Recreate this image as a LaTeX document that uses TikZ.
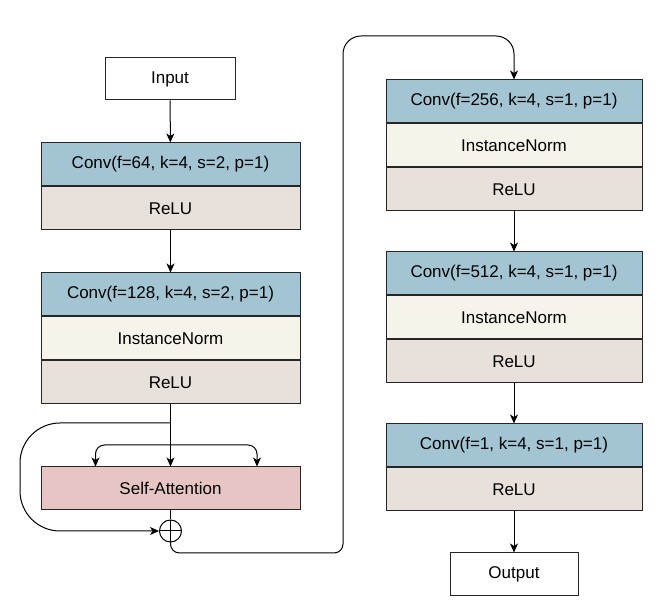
\documentclass[tikz,border=0pt]{standalone}
\usepackage{fontspec}
\setmainfont{Liberation Sans}
\usetikzlibrary{arrows.meta, positioning}

\definecolor{convblue}{HTML}{A3C5D3}
\definecolor{relugray}{HTML}{E8E0DA}
\definecolor{normcream}{HTML}{F6F3EB}
\definecolor{attnpink}{HTML}{E8C5C5}

\begin{document}
\begin{tikzpicture}[x=1pt, y=1pt, font=\fontsize{17}{20}\selectfont,
  layer/.style={rectangle, draw=black!85, line width=1pt, minimum width=259pt, minimum height=43pt, inner sep=0pt},
  convbox/.style={layer, fill=convblue},
  relubox/.style={layer, fill=relugray},
  normbox/.style={layer, fill=normcream},
  attnbox/.style={layer, fill=attnpink},
  iobox/.style={layer, fill=white, minimum width=130pt, minimum height=42pt},
  sumnode/.style={circle, draw=black, line width=1pt, minimum size=22pt, inner sep=0pt,
    path picture={\draw[line width=1pt] (path picture bounding box.north) -- (path picture bounding box.south)
      (path picture bounding box.west) -- (path picture bounding box.east);}},
  arrow/.style={line width=1pt, -{Stealth[length=9pt, width=8pt, inset=2.5pt]}},
  line/.style={line width=1pt}
]
\useasboundingbox (0,0) rectangle (665,616);

% left column
\node (input) [iobox] at (170,537) {Input};
\node (conva) [convbox] at (170.5,451.5) {Conv(f=64, k=4, s=2, p=1)};
\node (relua) [relubox, below=0pt of conva] {ReLU};
\node (convb) [convbox] at (170.5,321.5) {Conv(f=128, k=4, s=2, p=1)};
\node (normb) [normbox, below=0pt of convb] {InstanceNorm};
\node (relub) [relubox, below=0pt of normb] {ReLU};
\node (attn) [attnbox] at (170.5,127.5) {Self-Attention};
\node (sum) [sumnode] at (170.5,85) {};

% right column
\node (convc) [convbox, minimum width=256pt] at (514,514.5) {Conv(f=256, k=4, s=1, p=1)};
\node (normc) [normbox, minimum width=256pt, below=0pt of convc] {InstanceNorm};
\node (reluc) [relubox, minimum width=256pt, below=0pt of normc] {ReLU};
\node (convd) [convbox, minimum width=256pt] at (514,342.5) {Conv(f=512, k=4, s=1, p=1)};
\node (normd) [normbox, minimum width=256pt, below=0pt of convd] {InstanceNorm};
\node (relud) [relubox, minimum width=256pt, below=0pt of normd] {ReLU};
\node (conve) [convbox, minimum width=256pt] at (514,170.5) {Conv(f=1, k=4, s=1, p=1)};
\node (relue) [relubox, minimum width=256pt, below=0pt of conve] {ReLU};
\node (output) [iobox, minimum width=128pt, minimum height=43pt] at (514,41.5) {Output};

\coordinate (skip) at (170.5,193);
\coordinate (fork) at (170.5,171);

\draw [arrow] (input) -- (conva);
\draw [arrow] (relua) -- (convb);
\draw [arrow] (relub) -- (attn);
\draw [arrow, rounded corners=9pt] (fork) -| ([xshift=-75pt]attn.north);
\draw [arrow, rounded corners=9pt] (fork) -| ([xshift=86.5pt]attn.north);
\draw [arrow, rounded corners=40pt] (skip) -- (20,193) -- (20,85) -- (sum.west);
\draw [line] (attn) -- (sum);
\draw [arrow] (sum.south) [rounded corners=9pt] -- (170.5,63) -- (343,63) [rounded corners=18pt] -- (343,580) -- (514,580) -- (convc.north);
\draw [arrow] (reluc) -- (convd);
\draw [arrow] (relud) -- (conve);
\draw [arrow] (relue) -- (output);

\end{tikzpicture}
\end{document}
